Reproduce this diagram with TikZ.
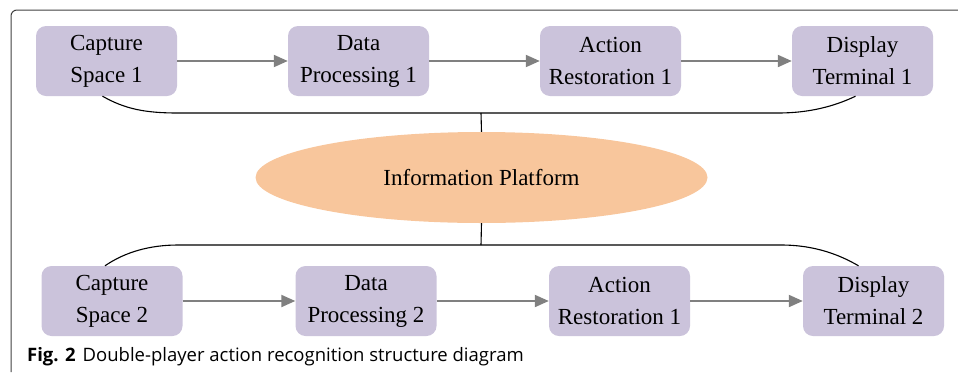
\documentclass[tikz,border=0pt]{standalone}
\usepackage{fontspec}
\setmainfont{Liberation Serif}
\newfontfamily\capfont{Open Sans}
\usetikzlibrary{shapes.geometric,arrows.meta}
\definecolor{boxlilac}{RGB}{203,195,219}
\definecolor{peach}{RGB}{248,198,156}

\begin{document}
\begin{tikzpicture}[x=1pt,y=-1pt,
        stage/.style={fill=boxlilac,rounded corners=10pt,minimum width=141pt,minimum height=70pt,inner sep=0pt,align=center,font=\fontsize{23}{32}\selectfont},
        flow/.style={draw=gray,line width=2pt,-{Triangle[length=14pt,width=12pt]}},
        brace/.style={draw=black,line width=1.1pt}]
    \useasboundingbox (0,0) rectangle (958,373);
		\draw[black!75,line width=1pt,rounded corners=6pt] (958,10) -- (11,10) -- (11,372);
        \node[stage] (cap1) at (106.5,61) {Capture\\Space 1};
        \node[stage] (proc1) at (358.5,61) {Data\\Processing 1};
        \node[stage] (rest1) at (610.5,61) {Action\\Restoration 1};
        \node[stage] (disp1) at (862.5,61) {Display\\Terminal 1};
        \node[stage] (cap2) at (112,301) {Capture\\Space 2};
        \node[stage] (proc2) at (366,301) {Data\\Processing 2};
        \node[stage] (rest2) at (619.5,301) {Action\\Restoration 1};
        \node[stage] (disp2) at (873.5,301) {Display\\Terminal 2};
        \node[ellipse,fill=peach,minimum width=452pt,minimum height=91pt,inner sep=0pt,font=\fontsize{23}{28}\selectfont] (platform) at (481.5,177.5) {Information Platform};
		\draw[flow] (cap1) -- (proc1);
		\draw[flow] (proc1) -- (rest1);
		\draw[flow] (rest1) -- (disp1);
		\draw[flow] (cap2) -- (proc2);
		\draw[flow] (proc2) -- (rest2);
		\draw[flow] (rest2) -- (disp2);
        \coordinate (topbar) at (481,113);
        \coordinate (lowbar) at (481,245);
        \draw[brace] ([xshift=-4pt]cap1.south) .. controls (125,109) and (145,113) .. (178,113) -- (topbar) -- (778,113) .. controls (810,113) and (835,106) .. ([xshift=-7pt]disp1.south);
        \draw[brace] (topbar) -- (platform.north);
        \draw[brace] (platform.south) -- (lowbar);
        \draw[brace] ([xshift=-7pt]cap2.north) .. controls (125,252) and (150,245) .. (178,245) -- (lowbar) -- (781,245) .. controls (815,245) and (840,255) .. ([xshift=-15pt]disp2.north);
        \node[anchor=base west,inner sep=0pt,font=\capfont\fontsize{18.5}{20}\selectfont] (caption) at (27,361) {\textbf{Fig. 2}\hspace{7pt}Double-player action recognition structure diagram};
    \end{tikzpicture}
\end{document}
